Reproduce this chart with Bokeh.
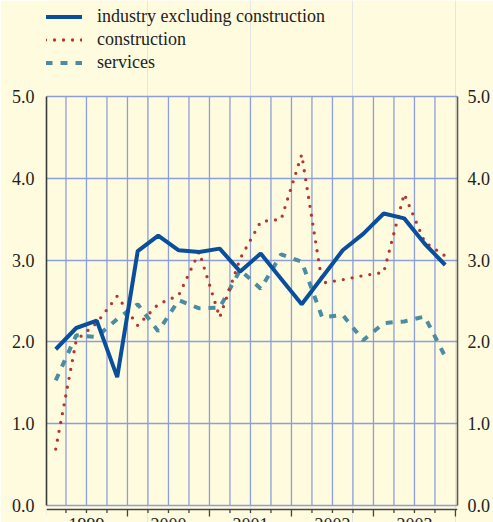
from bokeh.plotting import figure
from bokeh.models import (Range1d, LinearAxis, FixedTicker, Grid, Legend, LegendItem,
                          ColumnDataSource, NumeralTickFormatter, Span)
from bokeh.core.properties import value
from bokeh.embed import file_html
from bokeh.resources import INLINE

# ---- data (quarterly, 1999 Q1 .. 2003 Q4) ----
years = ["1999", "2000", "2001", "2002", "2003"]
quarters_per_year = 4
industry = [1.91, 2.17, 2.26, 1.57, 3.11, 3.30, 3.12, 3.10, 3.14, 2.86,
            3.08, 2.77, 2.46, 2.79, 3.12, 3.32, 3.57, 3.51, 3.20, 2.94]
construction = [0.69, 2.02, 2.23, 2.56, 2.20, 2.46, 2.57, 3.10, 2.30, 3.02,
                3.47, 3.50, 4.29, 2.72, 2.76, 2.81, 2.85, 3.81, 3.22, 3.05]
services = [1.53, 2.08, 2.06, 2.28, 2.46, 2.13, 2.51, 2.41, 2.42, 2.88,
            2.65, 3.07, 2.98, 2.30, 2.33, 2.02, 2.23, 2.25, 2.31, 1.82]
y_ticks = [0, 1, 2, 3, 4, 5]
series_labels = ["industry excluding construction", "construction", "services"]

# ---- layout constants ----
W, H = 493, 522
PX_PER_UNIT = 81.8          # vertical scale (pixels per percentage point)
ZERO_PX = 505               # pixel row of the 0.0 line
BG = "#fffbdf"
GRID = "#8d9fd8"
AXIS = "#444444"
FONT = "Liberation Serif"
TXT = "#222222"

y_top = (ZERO_PX) / PX_PER_UNIT
y_bot = -(H - ZERO_PX) / PX_PER_UNIT

n = len(industry)
n_q = len(years) * quarters_per_year
x = [i + 0.5 for i in range(n)]  # quarter midpoints
src = ColumnDataSource(dict(x=x, industry=industry, construction=construction, services=services))

p = figure(width=W, height=H, title=None,
           x_range=Range1d(0.05, 20.1), y_range=Range1d(y_bot, y_top),
           output_backend="svg", toolbar_location=None,
           x_axis_location=None, y_axis_location=None,
           min_border_left=46, min_border_right=33, min_border_top=0, min_border_bottom=0,
           background_fill_color=BG, border_fill_color=BG, outline_line_color=None)

# horizontal grid lines
p.add_layout(Grid(dimension=1, ticker=FixedTicker(ticks=y_ticks),
                  grid_line_color=GRID, grid_line_width=1.3))
# vertical grid lines at quarter boundaries, only over the 0..5 band
inner_bounds = list(range(1, n_q))
p.segment(x0=inner_bounds, y0=[y_ticks[0]] * len(inner_bounds),
          x1=inner_bounds, y1=[y_ticks[-1]] * len(inner_bounds),
          line_color=GRID, line_width=1.3)

def yaxis(standoff, line_color):
    return LinearAxis(ticker=FixedTicker(ticks=y_ticks), bounds=(y_ticks[0], y_ticks[-1]),
                      formatter=NumeralTickFormatter(format="0.0"),
                      major_tick_out=0, major_tick_in=0, minor_tick_out=0, minor_tick_in=0,
                      axis_line_color=line_color, axis_line_width=1.6,
                      major_label_text_font=FONT, major_label_text_font_size="18px",
                      major_label_text_color=TXT, major_label_standoff=standoff)

p.add_layout(yaxis(12, "#3a3a3a"), "left")
p.add_layout(yaxis(10, "#5a5a5a"), "right")

# bottom time axis: line, quarter ticks, year ticks, year labels
axis_y = -4 / PX_PER_UNIT
p.add_layout(Span(location=axis_y, dimension="width", line_color=AXIS, line_width=1.3))
year_bounds = [k * quarters_per_year for k in range(len(years) + 1)]
quarter_bounds = [k for k in range(n_q + 1) if k % quarters_per_year]
p.segment(x0=quarter_bounds, y0=[axis_y] * len(quarter_bounds),
          x1=quarter_bounds, y1=[axis_y - 3.5 / PX_PER_UNIT] * len(quarter_bounds),
          line_color=AXIS, line_width=1.3)
p.segment(x0=year_bounds, y0=[axis_y] * len(year_bounds),
          x1=year_bounds, y1=[axis_y - 7 / PX_PER_UNIT] * len(year_bounds),
          line_color=AXIS, line_width=1.3)
year_src = ColumnDataSource(dict(
    x=[k * quarters_per_year + quarters_per_year / 2 for k in range(len(years))],
    y=[axis_y - 8 / PX_PER_UNIT] * len(years), text=years))
p.text(x="x", y="y", text="text", source=year_src, text_align="center", text_baseline="top",
       text_font=value(FONT), text_font_size=value("18px"), text_color=TXT)

# series
r_srv = p.line("x", "services", source=src, line_color="#4a8ca2", line_width=4,
               line_dash="7 8")
r_con = p.line("x", "construction", source=src, line_color="#b3362f", line_width=3.3,
               line_dash="0 9", line_cap="round")
r_ind = p.line("x", "industry", source=src, line_color="#0a4f9e", line_width=4)

legend_top = 6
legend_h = 3 * 21 + 2 * 2
legend = Legend(items=[LegendItem(label=series_labels[0], renderers=[r_ind]),
                       LegendItem(label=series_labels[1], renderers=[r_con]),
                       LegendItem(label=series_labels[2], renderers=[r_srv])],
                location=(-1, H - legend_top - legend_h), orientation="vertical",
                padding=0, margin=0, spacing=2,
                glyph_width=37, glyph_height=21, label_height=21, label_standoff=15,
                label_text_font=FONT, label_text_font_size="18px", label_text_color=TXT,
                background_fill_alpha=0, border_line_color=None)
p.add_layout(legend)

open("out.html", "w").write(file_html(p, INLINE, "chart"))
